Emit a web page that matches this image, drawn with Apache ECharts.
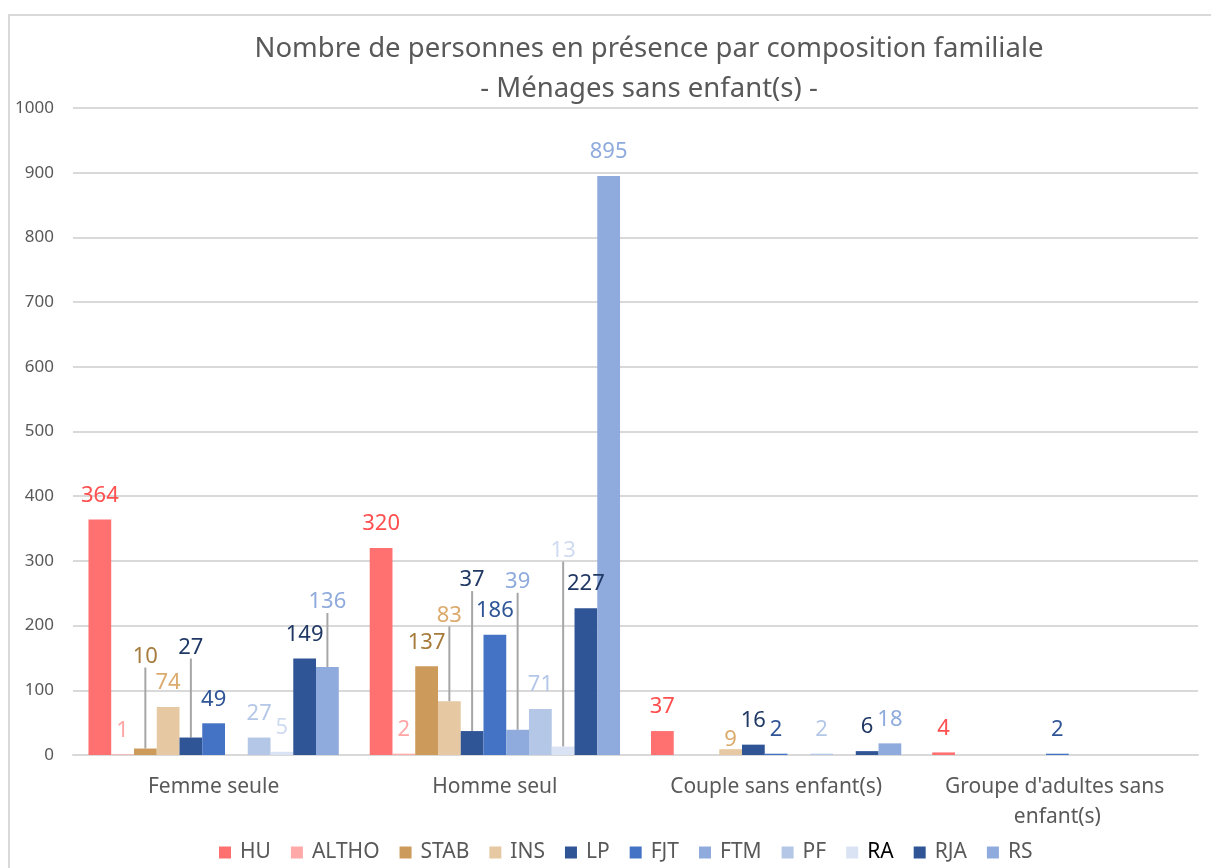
<!DOCTYPE html>
<html>
<head>
    <meta charset="UTF-8">
    <title>Ménages sans enfant(s)</title>
    <script type="text/javascript" src="https://cdn.jsdelivr.net/npm/echarts@6/dist/echarts.min.js"></script>
</head>
<body style="margin:0; background-color:#ffffff;">
    <div id="chart" style="width:1211px; height:868px;"></div>
    <script>
        // categories and values
        var categories = ['Femme seule', 'Homme seul', 'Couple sans enfant(s)', "Groupe d'adultes sans enfant(s)"];
        var seriesNames = ['HU', 'ALTHO', 'STAB', 'INS', 'LP', 'FJT', 'FTM', 'PF', 'RA', 'RJA', 'RS'];
        var HU    = [364, 320, 37, 4];
        var ALTHO = [1, 2, null, null];
        var STAB  = [10, 137, null, null];
        var INS   = [74, 83, 9, null];
        var LP    = [27, 37, 16, null];
        var FJT   = [49, 186, 2, 2];
        var FTM   = [null, 39, null, null];
        var PF    = [27, 71, 2, null];
        var RA    = [5, 13, null, null];
        var RJA   = [149, 227, 6, null];
        var RS    = [136, 895, 18, null];
        var yTicks = [0, 1000, 100];

        var values = [HU, ALTHO, STAB, INS, LP, FJT, FTM, PF, RA, RJA, RS];
        var barColors = ['#FF7171', '#FFA9A9', '#CC9A5A', '#E6C9A3', '#2F5597', '#4472C4',
                         '#8FAADC', '#B4C7E7', '#DAE3F3', '#2F5597', '#8FAADC'];
        var labelColors = ['#FF4F4F', '#FFA5A5', '#A67B3C', '#DBAA6C', '#203864', '#2F5597',
                           '#8FAADC', '#B4C7E7', '#CFDBF0', '#203864', '#8FAADC'];

        // labels moved by hand in the original (vertical shift in px)
        var labelShift = {
            '2|0': -68, '4|0': -66, '10|0': -41,
            '3|1': -62, '4|1': -127, '6|1': -124, '8|1': -172,
            '3|2': 15
        };
        // only these get a leader line
        var leaders = ['2|0', '4|0', '10|0', '3|1', '4|1', '6|1', '8|1'];

        var series = seriesNames.map(function (name, i) {
            return {
                name: name,
                type: 'bar',
                barGap: 0,
                barCategoryGap: '11%',
                data: values[i].map(function (v, j) {
                    if (leaders.indexOf(i + '|' + j) >= 0) {
                        return { value: v, labelLine: { show: true } };
                    }
                    return v;
                }),
                itemStyle: { color: barColors[i] },
                label: {
                    show: true,
                    position: 'top',
                    distance: 13,
                    color: labelColors[i],
                    fontFamily: 'Noto Sans',
                    fontSize: 22
                },
                labelLine: {
                    show: false,
                    lineStyle: { color: '#A6A6A6', width: 2 }
                },
                labelLayout: function (params) {
                    var dy = labelShift[params.seriesIndex + '|' + params.dataIndex];
                    return dy ? { dy: dy } : null;
                }
            };
        });

        var chart = echarts.init(document.getElementById('chart'), null, {renderer: 'canvas'});
        var option = {
            animation: false,
            textStyle: { fontFamily: 'Noto Sans' },
            title: {
                text: 'Nombre de personnes en présence par composition familiale\n- Ménages sans enfant(s) -',
                left: 644,
                top: 24,
                textAlign: 'center',
                textStyle: {
                    color: '#595959',
                    fontFamily: 'Noto Sans',
                    fontWeight: 'normal',
                    fontSize: 27.5,
                    lineHeight: 40
                }
            },
            legend: {
                bottom: 0,
                left: 214,
                icon: 'rect',
                itemWidth: 12,
                itemHeight: 12,
                itemGap: 20,
                textStyle: {
                    color: '#595959',
                    fontFamily: 'Noto Sans',
                    fontSize: 21,
                    padding: [0, 0, 0, 4]
                },
                data: seriesNames.map(function (n) {
                    return n === 'RA' ? { name: n, textStyle: { color: '#000000' } } : n;
                })
            },
            grid: { left: 73, right: 13, top: 108, bottom: 113 },
            xAxis: {
                type: 'category',
                data: categories,
                axisTick: { show: false },
                axisLine: { lineStyle: { color: '#D9D9D9', width: 2 } },
                axisLabel: {
                    interval: 0,
                    margin: 17,
                    color: '#595959',
                    fontSize: 21,
                    lineHeight: 30,
                    width: 260,
                    overflow: 'break'
                }
            },
            yAxis: {
                type: 'value',
                min: yTicks[0],
                max: yTicks[1],
                interval: yTicks[2],
                axisLine: { show: false },
                axisTick: { show: false },
                splitLine: { lineStyle: { color: '#D9D9D9', width: 2 } },
                axisLabel: {
                    color: '#595959',
                    fontSize: 17,
                    margin: 19,
                    formatter: function (v) { return String(v); }
                }
            },
            graphic: [{
                type: 'rect',
                shape: { x: 9, y: 15, width: 1400, height: 1000 },
                style: { fill: 'none', stroke: '#D9D9D9', lineWidth: 2 },
                silent: true
            }],
            series: series
        };
        chart.setOption(option);
    </script>
</body>
</html>
